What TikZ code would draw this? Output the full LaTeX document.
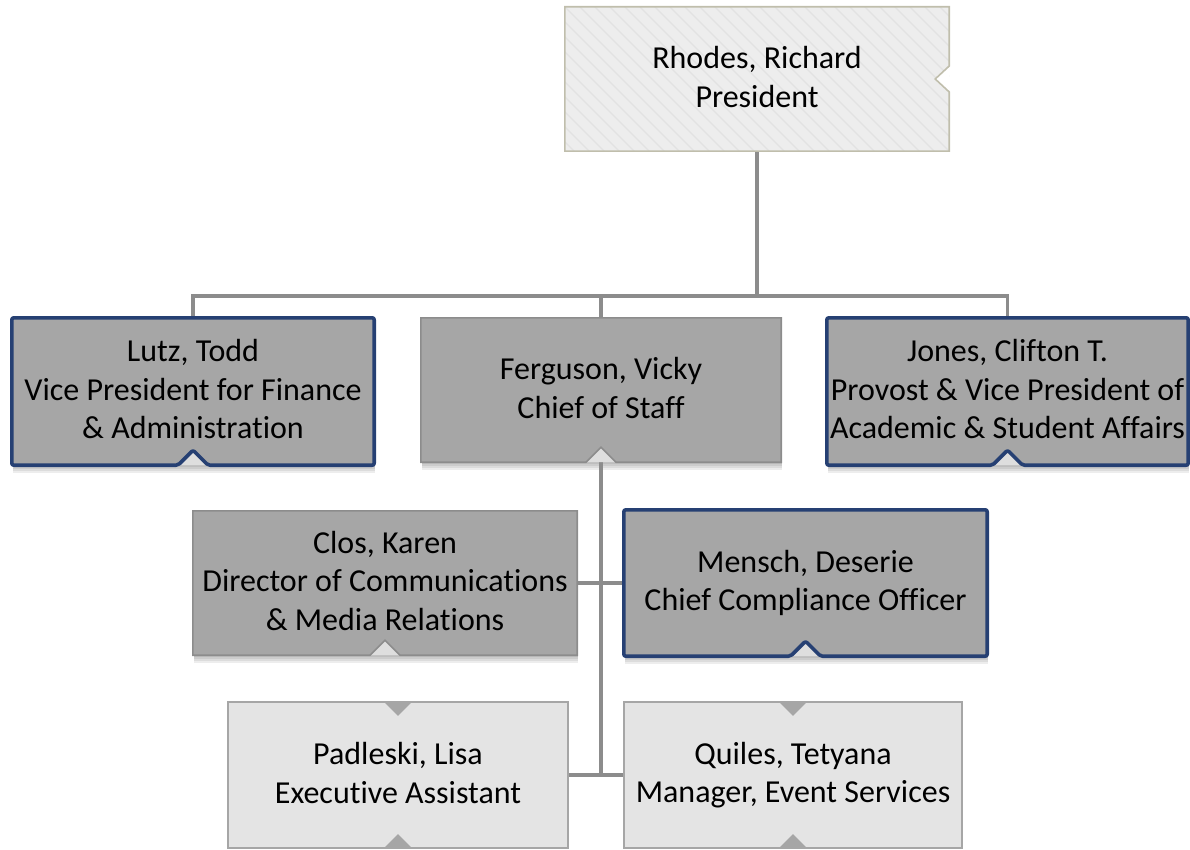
\documentclass[tikz,border=0pt]{standalone}
\usepackage{fontspec}
\setmainfont{Carlito}[Ligatures=NoCommon]
\usetikzlibrary{calc}
\definecolor{darkfill}{RGB}{166,166,166}
\definecolor{lightfill}{RGB}{228,228,228}
\definecolor{topfill}{RGB}{237,237,237}
\definecolor{stripecol}{RGB}{226,226,226}
\definecolor{topborder}{RGB}{192,190,172}
\definecolor{blueb}{RGB}{38,64,115}
\definecolor{grayb}{RGB}{140,140,140}
\definecolor{lightb}{RGB}{166,166,166}
\definecolor{conncol}{RGB}{140,140,140}
\definecolor{notchfill}{RGB}{222,222,222}
\pgfdeclarelayer{bg}
\pgfsetlayers{bg,main}
\begin{document}
\begin{tikzpicture}[x=1pt,y=-1pt,
  txt/.style={align=center,font=\fontsize{32}{38.5}\selectfont,inner sep=0pt,text=black,
    execute at begin node={\rule{0pt}{35pt}},execute at end node={\rule[-4.5pt]{0pt}{4.5pt}}},
  dkbox/.style={txt,fill=darkfill},
  ltbox/.style={txt,fill=lightfill},
  tpbox/.style={txt,fill=topfill},
  blueline/.style={draw=blueb,line width=3.6pt,rounded corners=2pt,line join=round},
  grayline/.style={draw=grayb,line width=1.6pt},
  lightline/.style={draw=lightb,line width=1.6pt},
  topline/.style={draw=topborder,line width=1.6pt},
  conn/.style={draw=conncol,line width=3.5pt},
  shade/.style={fill=black,opacity=0.07},
  tri/.style={fill=darkfill}
]
\useasboundingbox (0,0) rectangle (1190,850);

% nodes
\node[tpbox,minimum width=384,minimum height=144] (rhodes) at (757,79) {};
\node[dkbox,minimum width=362,minimum height=147] (lutz) at (193,391.5) {Lutz, Todd\\Vice President for Finance\\\& Administration};
\node[dkbox,minimum width=360,minimum height=144] (ferg) at (601,390) {Ferguson, Vicky\\Chief of Staff};
\node[dkbox,minimum width=361,minimum height=147] (jones) at (1007.5,391.5) {Jones, Clifton T.\\Provost \& Vice President of\\Academic \& Student Affairs};
\node[dkbox,minimum width=384,minimum height=144] (clos) at (385,583) {Clos, Karen\\Director of Communications\\\& Media Relations};
\node[dkbox,minimum width=363,minimum height=146] (mensch) at (805.5,583) {Mensch, Deserie\\Chief Compliance Officer};
\node[ltbox,minimum width=340,minimum height=146] (pad) at (398,775) {Padleski, Lisa\\Executive Assistant};
\node[ltbox,minimum width=338,minimum height=146] (quiles) at (793,775) {Quiles, Tetyana\\Manager, Event Services};

% stripes on the top box
\begin{scope}
\clip (rhodes.north west) rectangle (rhodes.south east);
\foreach \i in {0,15,...,570}
  \draw[stripecol,line width=1.2pt] ($(rhodes.north west)+(\i-165,0)$) -- ++(170,170);
\end{scope}
\node[txt] at (rhodes.center) {Rhodes, Richard\\President};

% top box outline with right notch
\fill[white] ($(rhodes.east)+(0,-13)$) -- ($(rhodes.east)+(-14,0)$) -- ($(rhodes.east)+(0,13)$) -- cycle;
\draw[topline] (rhodes.north west) -- (rhodes.north east) -- ($(rhodes.east)+(0,-13)$) -- ($(rhodes.east)+(-14,0)$) -- ($(rhodes.east)+(0,13)$) -- (rhodes.south east) -- (rhodes.south west) -- cycle;

% outlines with bottom notch
\foreach \n/\s in {lutz/blueline,jones/blueline,mensch/blueline,ferg/grayline,clos/grayline}{
  \fill[notchfill] ($(\n.south)+(-15,0)$) -- ($(\n.south)+(0,-15)$) -- ($(\n.south)+(15,0)$) -- cycle;
  \draw[\s] (\n.north west) -- (\n.north east) -- (\n.south east) -- ($(\n.south)+(15,0)$) -- ($(\n.south)+(0,-15)$) -- ($(\n.south)+(-15,0)$) -- (\n.south west) -- cycle;
}

% light boxes
\foreach \n in {pad,quiles}{
  \draw[lightline] (\n.north west) rectangle (\n.south east);
  \fill[tri] ($(\n.north)+(-14,0)$) -- ($(\n.north)+(0,14)$) -- ($(\n.north)+(14,0)$) -- cycle;
  \fill[tri] ($(\n.south)+(-14,0)$) -- ($(\n.south)+(0,-14)$) -- ($(\n.south)+(14,0)$) -- cycle;
}

% shadows and connectors behind
\begin{pgfonlayer}{bg}
\foreach \n in {lutz,ferg,jones,clos,mensch}{
  \foreach \d in {2,4,6,8}
    \fill[shade] ($(\n.south west)+(1,0)$) rectangle ($(\n.south east)+(1,\d)$);
}
\coordinate (bus) at (rhodes.south |- 0,296);
\draw[conn] (rhodes.south) -- (bus);
\draw[conn] (bus) -| (lutz.north);
\draw[conn] (bus) -| (ferg.north);
\draw[conn] (bus) -| (jones.north);
\draw[conn] (ferg.south) -- (ferg.south |- pad.east);
\draw[conn] (clos.east) -- (mensch.west);
\draw[conn] (pad.east) -- (quiles.west);
\end{pgfonlayer}
\end{tikzpicture}
\end{document}
